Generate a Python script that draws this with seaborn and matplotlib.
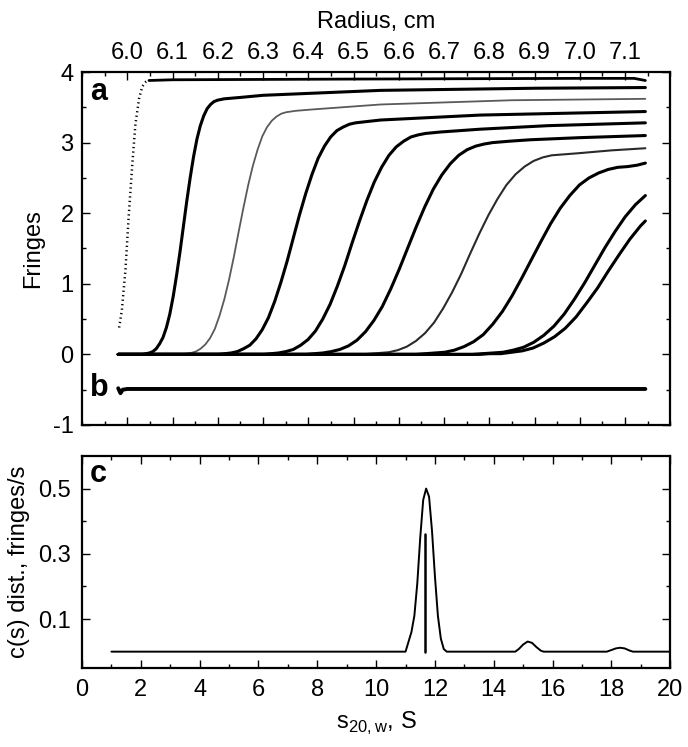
import numpy as np
import pandas as pd
import matplotlib
matplotlib.use("Agg")
import matplotlib.pyplot as plt
from matplotlib.ticker import MultipleLocator, FixedLocator
import seaborn as sns

sns.set_style('ticks')
plt.rcParams['font.family'] = ['Liberation Sans', 'DejaVu Sans']
plt.rcParams['axes.unicode_minus'] = False
for k in ['text.color', 'axes.labelcolor', 'xtick.color', 'ytick.color', 'axes.edgecolor']:
    plt.rcParams[k] = 'black'

# 沈降境界 (radius, fringes) -- 画像から読み取り
r1 = [5.982, 5.988, 5.996, 6.003, 6.011, 6.018, 6.026, 6.033, 6.037, 6.041, 6.044, 6.048,
      6.10, 6.50, 7.00, 7.12, 7.145]
f1 = [0.38, 0.62, 1.20, 1.94, 2.68, 3.26, 3.62, 3.79, 3.83, 3.86, 3.87, 3.88,
      3.89, 3.90, 3.91, 3.91, 3.88]

r2 = [5.98, 6.034, 6.0415, 6.049, 6.0565, 6.064, 6.0715, 6.079, 6.0865, 6.094, 6.1015, 6.109,
      6.1165, 6.124, 6.1315, 6.139, 6.1465, 6.154, 6.1615, 6.169, 6.1765, 6.184, 6.1915,
      6.199, 6.2065, 6.214, 6.25, 6.30, 6.56, 6.90, 7.145]
f2 = [0.0, 0.0, 0.01, 0.02, 0.04, 0.08, 0.15, 0.24, 0.38, 0.57, 0.82, 1.12,
      1.45, 1.81, 2.17, 2.50, 2.80, 3.05, 3.24, 3.38, 3.48, 3.54, 3.58,
      3.60, 3.61, 3.62, 3.64, 3.67, 3.74, 3.77, 3.78]

r3 = [5.98, 6.120, 6.1305, 6.141, 6.1515, 6.162, 6.1725, 6.183, 6.1935, 6.204, 6.2145, 6.225,
      6.2355, 6.246, 6.2565, 6.267, 6.2775, 6.288, 6.2985, 6.309, 6.3195, 6.330, 6.3405,
      6.351, 6.3615, 6.372, 6.41, 6.56, 6.85, 7.145]
f3 = [0.0, 0.0, 0.01, 0.02, 0.04, 0.08, 0.14, 0.23, 0.36, 0.55, 0.78, 1.06,
      1.38, 1.73, 2.07, 2.39, 2.67, 2.90, 3.09, 3.22, 3.31, 3.37, 3.41,
      3.43, 3.44, 3.45, 3.47, 3.54, 3.60, 3.62]

r4 = [5.98, 6.202, 6.2158, 6.2295, 6.2433, 6.257, 6.2708, 6.2845, 6.2983, 6.312, 6.3258, 6.3395,
      6.3533, 6.367, 6.3808, 6.3945, 6.4083, 6.422, 6.4358, 6.4495, 6.4633, 6.477, 6.4908,
      6.5045, 6.5183, 6.532, 6.56, 6.78, 7.145]
f4 = [0.0, 0.0, 0.01, 0.02, 0.04, 0.08, 0.13, 0.22, 0.35, 0.52, 0.75, 1.02,
      1.32, 1.65, 1.98, 2.28, 2.55, 2.78, 2.95, 3.08, 3.17, 3.22, 3.26,
      3.28, 3.29, 3.30, 3.32, 3.39, 3.44]

r5 = [5.98, 6.302, 6.3183, 6.3345, 6.3508, 6.367, 6.3833, 6.3995, 6.4158, 6.432, 6.4483, 6.4645,
      6.4808, 6.497, 6.5133, 6.5295, 6.5458, 6.562, 6.5783, 6.5945, 6.6108, 6.627, 6.6433,
      6.6595, 6.6758, 6.692, 6.78, 6.93, 7.145]
f5 = [0.0, 0.0, 0.01, 0.02, 0.04, 0.07, 0.13, 0.21, 0.33, 0.50, 0.71, 0.97,
      1.26, 1.58, 1.89, 2.18, 2.44, 2.65, 2.82, 2.94, 3.02, 3.08, 3.11,
      3.13, 3.14, 3.15, 3.19, 3.24, 3.28]

r6 = [5.98, 6.395, 6.4138, 6.4325, 6.4513, 6.470, 6.4888, 6.5075, 6.5263, 6.545, 6.5638, 6.5825,
      6.6013, 6.620, 6.6388, 6.6575, 6.6763, 6.695, 6.7138, 6.7325, 6.7513, 6.770, 6.7888,
      6.8075, 6.8263, 6.845, 6.89, 7.00, 7.145]
f6 = [0.0, 0.0, 0.01, 0.02, 0.04, 0.07, 0.12, 0.20, 0.32, 0.48, 0.68, 0.93,
      1.21, 1.51, 1.81, 2.09, 2.34, 2.54, 2.70, 2.82, 2.90, 2.95, 2.98,
      3.00, 3.01, 3.02, 3.04, 3.07, 3.10]

r7 = [5.98, 6.518, 6.538, 6.558, 6.578, 6.598, 6.618, 6.638, 6.658, 6.678, 6.698, 6.718,
      6.738, 6.758, 6.778, 6.798, 6.818, 6.838, 6.858, 6.878, 6.898, 6.918, 6.938,
      6.958, 6.978, 6.998, 7.07, 7.145]
f7 = [0.0, 0.0, 0.01, 0.02, 0.03, 0.06, 0.11, 0.19, 0.30, 0.45, 0.65, 0.88,
      1.14, 1.43, 1.71, 1.97, 2.20, 2.40, 2.55, 2.66, 2.74, 2.79, 2.82,
      2.83, 2.84, 2.85, 2.89, 2.92]

r8 = [5.98, 6.638, 6.6593, 6.6805, 6.7018, 6.723, 6.7443, 6.7655, 6.7868, 6.808, 6.8293, 6.8505,
      6.8718, 6.893, 6.9143, 6.9355, 6.9568, 6.978, 6.9993, 7.0205, 7.0418, 7.063, 7.0843,
      7.1055, 7.1268, 7.145]
f8 = [0.0, 0.0, 0.01, 0.02, 0.03, 0.06, 0.11, 0.18, 0.28, 0.43, 0.61, 0.83,
      1.08, 1.34, 1.60, 1.85, 2.07, 2.25, 2.40, 2.50, 2.57, 2.62, 2.65,
      2.66, 2.68, 2.71]

r9 = [5.98, 6.763, 6.7855, 6.808, 6.8305, 6.853, 6.8755, 6.898, 6.9205, 6.943, 6.9655, 6.988,
      7.0105, 7.033, 7.0555, 7.078, 7.1005, 7.123, 7.145]
f9 = [0.0, 0.0, 0.01, 0.02, 0.03, 0.06, 0.10, 0.17, 0.27, 0.40, 0.57, 0.78,
      1.01, 1.26, 1.51, 1.74, 1.95, 2.12, 2.25]

r10 = [5.98, 6.778, 6.8018, 6.8255, 6.8493, 6.873, 6.8968, 6.9205, 6.9443, 6.968, 6.9918, 7.0155,
       7.0393, 7.063, 7.0868, 7.1105, 7.1343, 7.145]
f10 = [0.0, 0.0, 0.01, 0.01, 0.03, 0.05, 0.09, 0.16, 0.25, 0.37, 0.53, 0.73,
       0.94, 1.18, 1.41, 1.63, 1.82, 1.89]

# 残差 (b)
resid_r = [5.980, 5.985, 5.990, 6.000, 7.145]
resid_f = [-0.48, -0.55, -0.50, -0.49, -0.49]

# c(s) 分布 (c)
s_val = [1.0, 11.0, 11.1, 11.2, 11.3, 11.4, 11.5, 11.6, 11.7, 11.8, 11.9, 12.0, 12.1, 12.2, 12.3, 12.4,
         14.73, 14.85, 15.0, 15.15, 15.3, 15.45, 15.6, 15.7,
         17.84, 18.0, 18.15, 18.3, 18.45, 18.6, 18.73, 20.0]
cs_val = [0.0, 0.0, 0.03, 0.06, 0.11, 0.21, 0.35, 0.465, 0.50, 0.475, 0.37, 0.23, 0.11, 0.04, 0.008, 0.0,
          0.0, 0.008, 0.022, 0.031, 0.027, 0.014, 0.003, 0.0,
          0.0, 0.005, 0.010, 0.012, 0.010, 0.004, 0.0, 0.0]
spike_s = [11.65, 11.65]
spike_c = [0.0, 0.36]

radius_ticks = [6.0, 6.1, 6.2, 6.3, 6.4, 6.5, 6.6, 6.7, 6.8, 6.9, 7.0, 7.1]
radius_labels = ['6.0', '6.1', '6.2', '6.3', '6.4', '6.5', '6.6', '6.7', '6.8', '6.9', '7.0', '7.1']
fringe_ticks = [-1, 0, 1, 2, 3, 4]
s_ticks = [0, 2, 4, 6, 8, 10, 12, 14, 16, 18, 20]
cs_ticks = [0.1, 0.3, 0.5]

curves = [(r1, f1), (r2, f2), (r3, f3), (r4, f4), (r5, f5),
          (r6, f6), (r7, f7), (r8, f8), (r9, f9), (r10, f10)]
colors = ['black', 'black', '#5a5a5a', 'black', 'black', 'black', '#2a2a2a', 'black', 'black', 'black']
widths = [1.0, 2.2, 1.3, 2.2, 2.2, 2.2, 1.5, 2.2, 2.2, 2.2]

fig = plt.figure(figsize=(6.88, 7.47), dpi=100)
ax1 = fig.add_axes([0.1192, 0.4311, 0.855, 0.4725])
ax2 = fig.add_axes([0.1192, 0.1058, 0.855, 0.2838])

# (a) 境界
for i, (r, f) in enumerate(curves):
    if i == 0:
        # 最初のスキャンは点線に見える
        sns.lineplot(x=r[:12], y=f[:12], ax=ax1, color='black', lw=1.8,
                     linestyle=(0, (0.5, 1.3)), estimator=None, sort=False)
        sns.lineplot(x=r[11:], y=f[11:], ax=ax1, color='black', lw=2.0,
                     estimator=None, sort=False)
    else:
        sns.lineplot(x=r, y=f, ax=ax1, color=colors[i], lw=widths[i],
                     estimator=None, sort=False)
sns.lineplot(x=resid_r, y=resid_f, ax=ax1, color='black', lw=2.8, estimator=None, sort=False)

ax1.set_xlim(5.9, 7.2)
ax1.set_ylim(-1, 4)
ax1.xaxis.set_major_locator(FixedLocator(radius_ticks))
ax1.set_xticklabels(radius_labels)
ax1.xaxis.set_minor_locator(MultipleLocator(0.05))
ax1.yaxis.set_major_locator(FixedLocator(fringe_ticks))
ax1.yaxis.set_minor_locator(MultipleLocator(0.5))
ax1.tick_params(which='both', direction='in', top=True, bottom=True, right=True, left=True,
                labeltop=True, labelbottom=False, labelsize=17, width=1.0)
ax1.tick_params(which='major', length=6, pad=6)
ax1.tick_params(which='minor', length=3)
ax1.xaxis.set_label_position('top')
ax1.set_xlabel('Radius, cm', fontsize=17, labelpad=10)
ax1.set_ylabel('Fringes', fontsize=17, labelpad=6)
ax1.text(0.014, 0.943, 'a', transform=ax1.transAxes, fontsize=22, fontweight='bold', va='center')
ax1.text(0.014, 0.105, 'b', transform=ax1.transAxes, fontsize=22, fontweight='bold', va='center')

# (c) c(s)
sns.lineplot(x=s_val, y=cs_val, ax=ax2, color='black', lw=1.4, estimator=None, sort=False)
sns.lineplot(x=spike_s, y=spike_c, ax=ax2, color='black', lw=1.8, estimator=None, sort=False)
ax2.set_xlim(0, 20)
ax2.set_ylim(-0.05, 0.6)
ax2.xaxis.set_major_locator(FixedLocator(s_ticks))
ax2.xaxis.set_minor_locator(MultipleLocator(1))
ax2.yaxis.set_major_locator(FixedLocator(cs_ticks))
ax2.yaxis.set_minor_locator(FixedLocator([0.2, 0.4]))
ax2.set_yticklabels(['0.1', '0.3', '0.5'])
ax2.tick_params(which='both', direction='in', top=True, bottom=True, right=True, left=True,
                labelsize=17, width=1.0)
ax2.tick_params(which='major', length=6, pad=8)
ax2.tick_params(which='minor', length=3)
ax2.set_xlabel('s$_{\\mathregular{20,w}}$, S', fontsize=17, labelpad=6)
ax2.set_ylabel('c(s) dist., fringes/s', fontsize=17, labelpad=6)
ax2.text(0.014, 0.915, 'c', transform=ax2.transAxes, fontsize=22, fontweight='bold', va='center')

for ax in (ax1, ax2):
    for sp in ax.spines.values():
        sp.set_linewidth(1.6)
        sp.set_visible(True)

fig.savefig('out.png', dpi=100)
